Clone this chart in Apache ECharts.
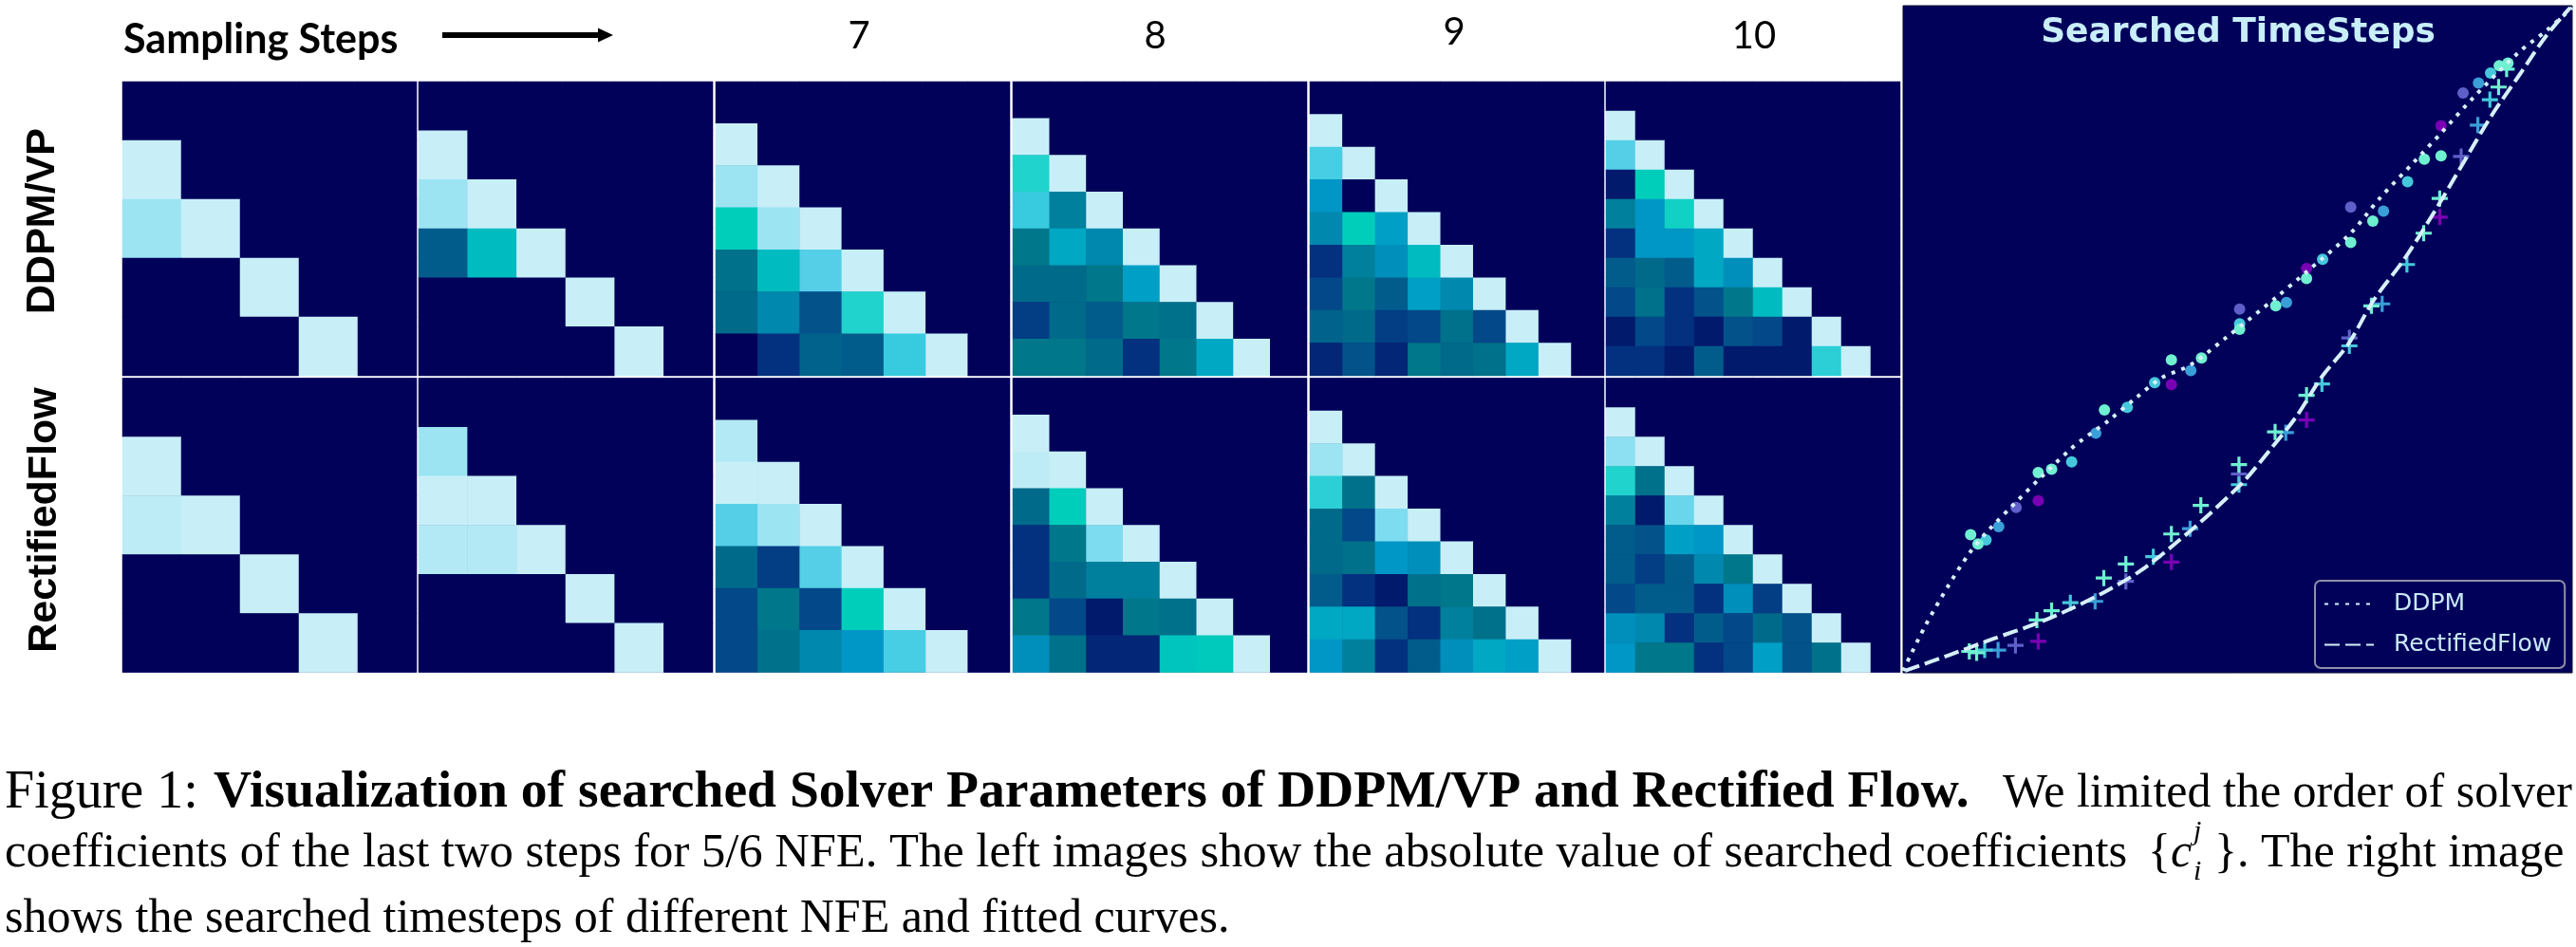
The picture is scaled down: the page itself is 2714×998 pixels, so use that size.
<!DOCTYPE html>
<html>
<head>
<meta charset="utf-8">
<title>Searched Solver Parameters</title>
<script src="https://cdn.jsdelivr.net/npm/echarts@6/dist/echarts.min.js"></script>
<style>
html,body{margin:0;padding:0;background:#fff;}
#main{width:2714px;height:998px;}
</style>
</head>
<body>
<div id="main"></div>
<script>
// colour levels of the heatmaps, value = index in this list
var levelColors = ['#01015a','#021a6c','#03317f','#034889','#025c8b','#006a8b','#00778a','#0088ae','#0096c6','#00a8c4','#00bcc0','#00cebb','#20d3cc','#38cbdf','#55cfe8','#7edcf0','#9ce4f2','#b3e9f4','#c8eff8'];

// searched coefficients, rows from the top, missing cells are empty
var ddpm5 = [[],[18],[16,18],[0,0,18],[0,0,0,18]];
var ddpm6 = [[],[18],[16,18],[4,10,18],[0,0,0,18],[0,0,0,0,18]];
var ddpm7 = [[],[18],[16,18],[11,16,18],[5.5,10,14,18],[5,7,3.5,12,18],[0,2,4.5,4,13,18]];
var ddpm8 = [[],[18],[12,18],[13,6.5,18],[6,9,7,18],[5,5,6,8.5,18],[2.5,5,4,6,5.5,18],[6,6,5,2,6,9,18]];
var ddpm9 = [[],[18],[13.5,18],[8,0,18],[7,11,8.5,18],[2,6.5,7.5,10,18],[3,6,4,8.5,7,18],[4.5,5,2.5,3,5.5,3,18],[1.5,3.5,1.5,6,5,5.5,9,18]];
var ddpm10 = [[],[18],[14,18],[1,11,18],[6.5,8,11.5,18],[2,8,8,9,18],[4,5,4,9,7.5,18],[3,5.5,2,3.5,6,10,18],[1,3,2,1,3.5,3,1,18],[2,2,1,4,1,1,1,12.5,18]];
var flow5 = [[],[18],[17.5,18],[0,0,18],[0,0,0,18]];
var flow6 = [[],[16],[18,18],[17,17,18],[0,0,0,18],[0,0,0,0,18]];
var flow7 = [[],[17],[18,18],[14,16,18],[5,2.5,14,18],[3,6,3,11,18],[3,5.5,7,8,13.5,18]];
var flow8 = [[],[18],[17.5,18],[5,11,18],[2,6,15,18],[2,5,6.5,6.5,18],[6,3,1,6,5.5,18],[7.5,5.5,1.5,1.5,10.5,10.8,18]];
var flow9 = [[],[18],[16,18],[12.5,5.5,18],[5,3,15,18],[5,5.5,8,7.5,18],[4,2,1,5.5,6,18],[9,9,3.5,2,6.5,5.5,18],[8,6.5,2,4,7.5,9,8.5,18]];
var flow10 = [[],[18],[15.5,18],[12,5.5,18],[6.5,1,14.5,18],[4,3.5,8.5,8,18],[4,2.5,4,7,6,18],[3,4,4,2,7.5,2.5,18],[7.5,7,2,4,3,5,3.5,18],[8,6,6,2,3,8.5,3.5,5.5,18]];

var ddpmRows = [ddpm5,ddpm6,ddpm7,ddpm8,ddpm9,ddpm10];
var flowRows = [flow5,flow6,flow7,flow8,flow9,flow10];
var stepLabels = ['7','8','9','10'];

// fitted curves of the right image
var ddpmCurve = [[0,0.003],[0.033,0.070],[0.068,0.131],[0.099,0.179],[0.127,0.213],[0.249,0.334],[0.307,0.378],[0.348,0.412],[0.386,0.442],[0.429,0.461],[0.481,0.501],[0.558,0.563],[0.603,0.601],[0.668,0.658],[0.713,0.712],[0.762,0.764],[0.804,0.809],[0.852,0.862],[0.920,0.930],[0.962,0.963],[1,0.997]];
var flowCurve = [[0.003,0.003],[0.070,0.027],[0.135,0.051],[0.200,0.074],[0.251,0.096],[0.303,0.122],[0.355,0.153],[0.406,0.193],[0.458,0.238],[0.510,0.288],[0.549,0.335],[0.587,0.383],[0.626,0.444],[0.665,0.492],[0.703,0.558],[0.749,0.620],[0.794,0.691],[0.833,0.757],[0.878,0.833],[0.923,0.899],[0.962,0.956],[0.997,0.997]];

// searched timesteps, circles = DDPM
var ddpmMint = [[0.904,0.914],[0.891,0.910],[0.779,0.770],[0.804,0.775],[0.702,0.677],[0.669,0.645],[0.603,0.591],[0.557,0.550],[0.503,0.515],[0.401,0.469],[0.446,0.472],[0.301,0.394],[0.222,0.305],[0.202,0.300],[0.101,0.207],[0.112,0.193]];
var ddpmCyan = [[0.878,0.899],[0.754,0.736],[0.627,0.620],[0.503,0.523],[0.376,0.435],[0.335,0.398],[0.252,0.316],[0.124,0.199]];
var ddpmBlue = [[0.860,0.884],[0.718,0.692],[0.573,0.555],[0.430,0.453],[0.288,0.359],[0.143,0.219]];
var ddpmSlate = [[0.837,0.869],[0.669,0.698],[0.503,0.545],[0.169,0.248]];
var ddpmPurple = [[0.804,0.820],[0.603,0.606],[0.401,0.432],[0.202,0.258]];
// crosses = RectifiedFlow
var flowMint = [[0.902,0.905],[0.890,0.878],[0.802,0.711],[0.778,0.659],[0.700,0.550],[0.603,0.416],[0.556,0.361],[0.502,0.312],[0.445,0.251],[0.401,0.208],[0.333,0.163],[0.300,0.142],[0.222,0.093],[0.200,0.079],[0.110,0.030],[0.099,0.032]];
var flowCyan = [[0.877,0.859],[0.753,0.612],[0.667,0.490],[0.626,0.433],[0.502,0.282],[0.374,0.174],[0.250,0.105],[0.122,0.034]];
var flowBlue = [[0.859,0.821],[0.716,0.553],[0.572,0.360],[0.429,0.216],[0.287,0.107],[0.142,0.034]];
var flowSlate = [[0.834,0.774],[0.667,0.502],[0.502,0.298],[0.333,0.137],[0.168,0.041]];
var flowPurple = [[0.802,0.683],[0.603,0.379],[0.401,0.166],[0.202,0.047]];

var markColors = {mint:'#6ff0d0',cyan:'#45c8dc',blue:'#3a9ed8',slate:'#5e5fc8',purple:'#7a00b4'};
var plusPath = 'path://M6.5 0h3v6.5h6.5v3H9.5v6.5h-3V9.5H0v-3h6.5z';

var panelLeft = [129,441,754,1067,1380,1692];
var rowTop = [86,398.5];
var panelSize = 310;
var navy = '#01015a';

var grids = [], xAxes = [], yAxes = [], series = [], heatIndex = [];

function addPanel(rows,left,top){
	var n = rows.length, names = [], cells = [];
	for(var i=0;i<n;i++){
		names.push(i);
		for(var j=0;j<n;j++){
			cells.push([j,i,rows[i][j]===undefined?0:rows[i][j]]);
		}
	}
	var g = grids.length;
	grids.push({left:left,top:top,width:panelSize,height:panelSize,show:true,backgroundColor:navy,borderWidth:0});
	xAxes.push({type:'category',gridIndex:g,data:names,show:false});
	yAxes.push({type:'category',gridIndex:g,data:names,show:false,inverse:true});
	heatIndex.push(series.length);
	series.push({type:'heatmap',xAxisIndex:g,yAxisIndex:g,data:cells,animation:false,silent:true});
}
for(var c=0;c<6;c++){
	addPanel(ddpmRows[c],panelLeft[c],rowTop[0]);
	addPanel(flowRows[c],panelLeft[c],rowTop[1]);
}

// right image
var rightGrid = grids.length;
grids.push({left:2005,top:6,width:705,height:703,show:true,backgroundColor:navy,borderColor:'#0a0a30',borderWidth:1});
xAxes.push({type:'value',gridIndex:rightGrid,min:0,max:1,show:false});
yAxes.push({type:'value',gridIndex:rightGrid,min:0,max:1,show:false});

function addMarks(data,color,symbol,size){
	series.push({type:'scatter',xAxisIndex:rightGrid,yAxisIndex:rightGrid,data:data,symbol:symbol,symbolSize:size,itemStyle:{color:color,opacity:1},animation:false,silent:true,z:3});
}
function addCurve(name,data,dash){
	series.push({type:'line',name:name,xAxisIndex:rightGrid,yAxisIndex:rightGrid,data:data,smooth:0.3,symbol:'none',lineStyle:{color:'#d5f0f8',width:4,type:dash},itemStyle:{color:'#d5f0f8'},animation:false,silent:true,z:4,clip:true});
}
addMarks(ddpmPurple,markColors.purple,'circle',12);
addMarks(ddpmSlate,markColors.slate,'circle',12);
addMarks(ddpmBlue,markColors.blue,'circle',12);
addMarks(ddpmCyan,markColors.cyan,'circle',12);
addMarks(ddpmMint,markColors.mint,'circle',12);
addMarks(flowPurple,markColors.purple,plusPath,17);
addMarks(flowSlate,markColors.slate,plusPath,17);
addMarks(flowBlue,markColors.blue,plusPath,17);
addMarks(flowCyan,markColors.cyan,plusPath,17);
addMarks(flowMint,markColors.mint,plusPath,17);
addCurve('DDPM',ddpmCurve,[4,7]);
addCurve('RectifiedFlow',flowCurve,[16,6]);

// texts and the arrow around the images
var serif = '"Liberation Serif"';
function label(x,y,text,font,size,weight,color,align,extra){
	var el = {type:'text',x:x,y:y,z:10,silent:true,style:{text:text,fontFamily:font,fontSize:size,fontWeight:weight,fill:color,textAlign:align,textVerticalAlign:'middle'}};
	if(extra){for(var k in extra){el[k]=extra[k];}}
	return el;
}
function capLine(x,base,text,size,weight,italic){
	return {type:'text',x:x,y:base,z:10,silent:true,style:{text:text,fontFamily:serif,fontSize:size,fontWeight:weight||'normal',fontStyle:italic?'italic':'normal',fill:'#000',textAlign:'left',textVerticalAlign:'bottom'}};
}
var stepX = [905,1217,1532,1848], stepY = [38,38,34,38];
var graphics = [
	label(130,42,'Sampling Steps','Lato',43,'bold','#000','left'),
	{type:'rect',z:10,silent:true,shape:{x:466,y:34,width:165,height:6},style:{fill:'#000'}},
	{type:'polygon',z:10,silent:true,shape:{points:[[630,29.5],[646,37],[630,44.5]]},style:{fill:'#000'}},
	label(45,233,'DDPM/VP','"Liberation Sans"',43,'bold','#000','center',{rotation:Math.PI/2}),
	label(47,548,'RectifiedFlow','"Liberation Sans"',43,'bold','#000','center',{rotation:Math.PI/2}),
	label(2358,35,'Searched TimeSteps','"DejaVu Sans"',36,'bold','#c8eef8','center'),
	capLine(5,864,'Figure 1:',56),
	capLine(225,864,'Visualization of searched Solver Parameters of DDPM/VP and Rectified Flow.',55.6,'bold'),
	capLine(2110,862,'We limited the order of solver',50),
	capLine(5,925,'coefficients of the last two steps for 5/6 NFE. The left images show the absolute value of searched coefficients',50.6),
	capLine(2263,925,'{',50),
	capLine(2287,925,'c',50,'normal',true),
	capLine(2311,892,'j',30,'normal',true),
	capLine(2311,934,'i',30,'normal',true),
	capLine(2333,925,'}',50),
	capLine(2357,925,'. The right image',50),
	capLine(5,994,'shows the searched timesteps of different NFE and fitted curves.',50)
];
for(var s=0;s<stepLabels.length;s++){
	graphics.push(label(stepX[s],stepY[s],stepLabels[s],'Lato',40,'normal','#000','center'));
}

var chart = echarts.init(document.getElementById('main'),null,{renderer:'canvas'});
var option = {
	backgroundColor:'#fff',
	animation:false,
	grid:grids,
	xAxis:xAxes,
	yAxis:yAxes,
	visualMap:{show:false,type:'continuous',seriesIndex:heatIndex,dimension:2,min:0,max:levelColors.length-1,inRange:{color:levelColors}},
	legend:{
		data:['DDPM','RectifiedFlow'],
		orient:'vertical',
		left:2439,
		top:612,
		itemWidth:52,
		itemHeight:14,
		itemGap:18,
		padding:[12,14,12,9],
		borderColor:'#8f90a8',
		borderWidth:2,
		borderRadius:6,
		backgroundColor:navy,
		selectedMode:false,
		itemStyle:{opacity:0},
		textStyle:{color:'#c8e8f4',fontFamily:'"DejaVu Sans"',fontSize:25,padding:[0,0,0,16]}
	},
	graphic:graphics,
	series:series
};
chart.setOption(option);
</script>
</body>
</html>
